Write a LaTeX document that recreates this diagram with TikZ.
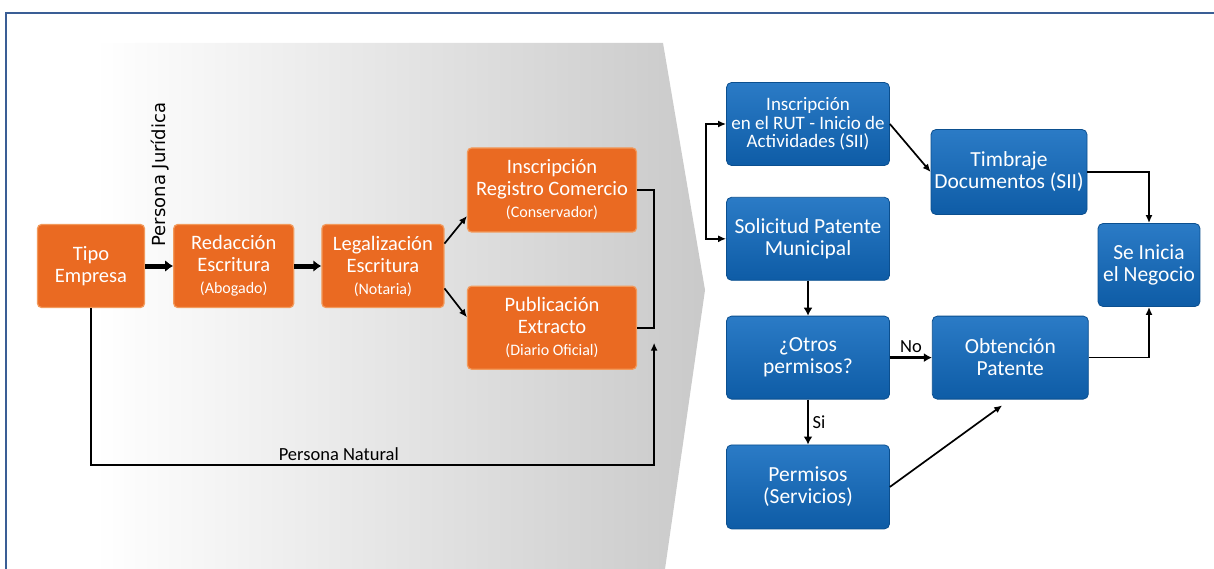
\documentclass[tikz,border=0pt]{standalone}
\usepackage{fontspec}
\setmainfont{Carlito}
\newfontfamily\pjfont{DejaVu Sans}
\usetikzlibrary{arrows.meta,positioning}
\usetikzlibrary{calc}

\definecolor{frameblue}{HTML}{3A5E95}
\definecolor{orfill}{HTML}{EA6A22}
\definecolor{orline}{HTML}{F29A5C}
\definecolor{bltop}{HTML}{2B7BC6}
\definecolor{blbot}{HTML}{0E5CA6}
\definecolor{blline}{HTML}{0B4F8F}
\newcommand{\subtxt}[1]{{\fontsize{16}{18}\selectfont #1}}

\begin{document}
\begin{tikzpicture}[x=1pt, y=-1pt,
  obox/.style={fill=orfill, draw=orline, line width=1.2pt, rounded corners=4pt, text=white, align=center, minimum height=83pt, inner sep=2pt, font=\fontsize{20.5}{22}\selectfont},
  bbox/.style={top color=bltop, bottom color=blbot, draw=blline, line width=0.8pt, rounded corners=5pt, text=white, align=center, minimum height=83pt, inner sep=2pt, font=\fontsize{21.5}{22}\selectfont},
  arr/.style={-{Latex[length=8pt,width=7pt]}, line width=1.7pt},
  arrm/.style={-{Latex[length=8pt,width=9pt]}, line width=2.6pt},
  arrb/.style={-{Latex[length=8pt,width=12pt]}, line width=5pt},
  lbl/.style={font=\fontsize{18.5}{20}\selectfont}
]
  \useasboundingbox (0,0) rectangle (1214,569);

  % background
  \shade[left color=white, middle color=black!3, right color=black!21] (95,43) -- (663,43) -- (705,290) -- (665,569) -- (95,569) -- cycle;
  \draw[frameblue, line width=2.2pt] (6,569) -- (6,13) -- (1214,13);

  % orange row
  \node[obox, minimum width=107pt] (tipo) at (91,266) {Tipo\\Empresa};
  \node[obox, minimum width=120pt, right=28pt of tipo] (redac) {Redacción\\Escritura\\\subtxt{(Abogado)}};
  \node[obox, minimum width=122pt, right=27pt of redac] (legal) {Legalización\\Escritura\\\subtxt{(Notaria)}};
  \node[obox, minimum width=169pt, minimum height=84pt] (insc) at (552,190) {Inscripción\\Registro Comercio\\\subtxt{(Conservador)}};
  \node[obox, minimum width=169pt, below=53pt of insc] (publ) {Publicación\\Extracto\\\subtxt{(Diario Oficial)}};
  \node[rotate=90, anchor=west, font=\pjfont\fontsize{18}{20}\selectfont] (pj) at (160,250) {Persona Jurídica};

  % blue part
  \node[bbox, minimum width=163pt, font=\fontsize{19}{18.5}\selectfont] (rut) at (808,124) {Inscripción\\en el RUT - Inicio de\\Actividades (SII)};
  \node[bbox, minimum width=163pt, below=31pt of rut] (sol) {Solicitud Patente\\Municipal};
  \node[bbox, minimum width=163pt, below=35pt of sol] (otros) {¿Otros\\permisos?};
  \node[bbox, minimum width=163pt, minimum height=84pt, below=45pt of otros] (perm) {Permisos\\(Servicios)};
  \node[bbox, minimum width=156pt, minimum height=85pt] (timb) at (1009,172) {Timbraje\\Documentos (SII)};
  \node[bbox, minimum width=156pt, right=42pt of otros] (obt) {Obtención\\Patente};
  \node[bbox, minimum width=102pt] (inicia) at (1149,265) {Se Inicia\\el Negocio};

  \draw[arrb] (tipo) -- (redac);
  \draw[arrb] (redac) -- (legal);
  \draw[arr] (legal.20) -- (insc.197);
  \draw[arr] (legal.-20) -- (publ.173);
  \draw[line width=1.7pt] (insc.east) -- ++(17,0) |- (publ.east);
  \coordinate (join) at ($(publ.east)+(17,15)$);
  \draw[arr] (tipo.south) -- ++(0,157) -| (join) node[pos=0.22, above, lbl] {Persona Natural};

  \coordinate (split) at ($(rut.west)!0.5!(sol.west)+(-20,0)$);
  \draw[arr] (split) |- (rut.west);
  \draw[arr] (split) |- (sol.west);
  \draw[arr] (rut.east) -- (timb.west);
  \draw[arr] (timb.east) -| (inicia.north);
  \draw[arrm] (sol) -- (otros);
  \draw[arrm] (otros) -- (obt) node[midway, above, lbl] {No};
  \draw[arrm] (otros) -- (perm) node[midway, right, lbl] {Si};
  \draw[arr, shorten >=10pt] (perm.east) -- (obt.south);
  \draw[arr] (obt.east) -| (inicia.south);
\end{tikzpicture}
\end{document}
